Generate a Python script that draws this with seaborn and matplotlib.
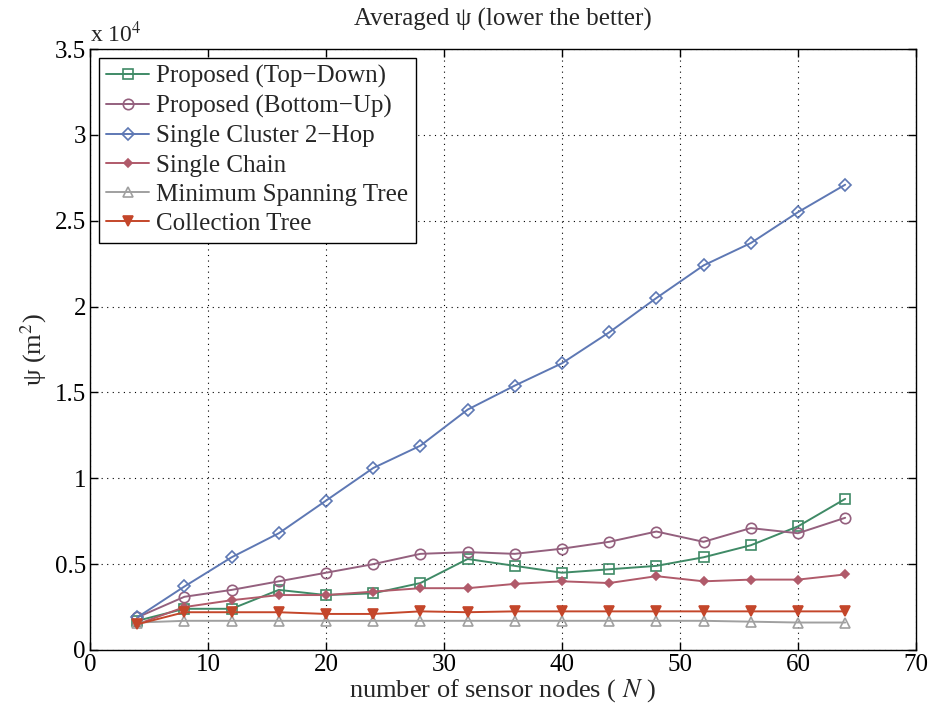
import matplotlib
matplotlib.use("Agg")
import matplotlib.pyplot as plt
import seaborn as sns
import pandas as pd
from matplotlib.ticker import FuncFormatter

nodes = [4, 8, 12, 16, 20, 24, 28, 32, 36, 40, 44, 48, 52, 56, 60, 64]
top_down = [1700, 2400, 2400, 3500, 3200, 3300, 3900, 5300, 4900, 4500, 4700, 4900, 5400, 6100, 7200, 8800]
bottom_up = [1900, 3100, 3500, 4000, 4500, 5000, 5600, 5700, 5600, 5900, 6300, 6900, 6300, 7100, 6800, 7700]
cluster_2hop = [1900, 3700, 5400, 6800, 8700, 10600, 11900, 14000, 15400, 16700, 18500, 20500, 22400, 23700, 25500, 27100]
single_chain = [1500, 2500, 2900, 3200, 3200, 3400, 3600, 3600, 3850, 4000, 3900, 4300, 4000, 4100, 4100, 4400]
mst = [1600, 1700, 1700, 1700, 1700, 1700, 1700, 1700, 1700, 1700, 1700, 1700, 1700, 1650, 1600, 1600]
collection_tree = [1500, 2200, 2200, 2200, 2100, 2100, 2250, 2200, 2250, 2250, 2250, 2250, 2250, 2250, 2250, 2250]

labels = ["Proposed (Top\u2212Down)", "Proposed (Bottom\u2212Up)", "Single Cluster 2\u2212Hop",
          "Single Chain", "Minimum Spanning Tree", "Collection Tree"]
series = [top_down, bottom_up, cluster_2hop, single_chain, mst, collection_tree]
colors = ["#3f8a66", "#94607e", "#5e78b4", "#b05a6a", "#a0a0a0", "#c4462a"]
markers = ["s", "o", "D", "D", "^", "v"]
filled = [False, False, False, True, False, True]
msizes = [6.5, 7.5, 6.5, 4.5, 6.5, 7.5]

x_ticks = [0, 10, 20, 30, 40, 50, 60, 70]
y_ticks = [0, 5000, 10000, 15000, 20000, 25000, 30000, 35000]

sns.set_theme(style="white")
plt.rcParams["font.family"] = ["Liberation Serif", "DejaVu Serif"]
plt.rcParams["mathtext.fontset"] = "stix"

fig = plt.figure(figsize=(9.36, 7.11), dpi=100)
ax = fig.add_axes([0.0962, 0.0858, 0.8824, 0.8452])

for lab, ys, c, m, f, ms in zip(labels, series, colors, markers, filled, msizes):
    df = pd.DataFrame({"N": nodes, "psi": ys})
    sns.lineplot(data=df, x="N", y="psi", ax=ax, color=c, marker=m, markersize=ms,
                 markerfacecolor=(c if f else "none"), markeredgecolor=c,
                 markeredgewidth=1.2, linewidth=1.4, label=lab)

ax.set_xlim(0, 70)
ax.set_ylim(0, 35000)
ax.set_xticks(x_ticks)
ax.set_yticks(y_ticks)
ax.yaxis.set_major_formatter(FuncFormatter(lambda v, p: f"{v/1e4:g}"))
ax.grid(True, color="black", linestyle=(0, (1, 4)), linewidth=0.8)
ax.tick_params(direction="in", length=6, width=1, labelsize=18, top=True, right=True,
               bottom=True, left=True, colors="black", pad=3)
for s in ax.spines.values():
    s.set_color("black")
    s.set_linewidth(1.0)

ax.set_xlabel("number of sensor nodes ( $\\mathit{N}$ )", fontsize=19, labelpad=1)
ax.set_ylabel("\u03c8 (m$^2$)", fontsize=19, labelpad=4)
ax.set_title("Averaged \u03c8 (lower the better)", fontsize=18, pad=17)
ax.text(0.0, 1.003, "x 10$^4$", transform=ax.transAxes, fontsize=17, ha="left", va="bottom")

leg = ax.legend(loc="upper left", fontsize=18, frameon=True, fancybox=False,
                borderaxespad=0.35, handlelength=1.7, handletextpad=0.3,
                labelspacing=0.27, borderpad=0.3)
leg.get_frame().set_edgecolor("black")
leg.get_frame().set_linewidth(1.0)
leg.get_frame().set_alpha(1)

fig.savefig("out.png", dpi=100)
